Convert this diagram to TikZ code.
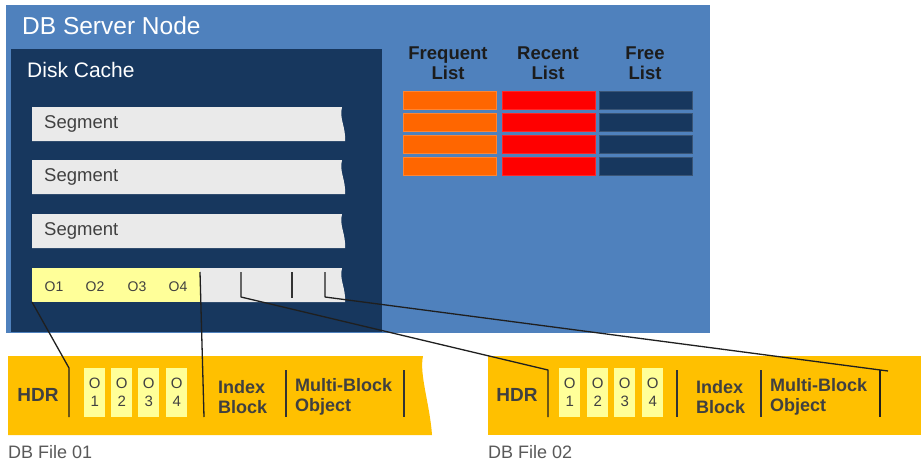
\documentclass[tikz,border=0pt]{standalone}
\usepackage{fontspec}
\setmainfont{Liberation Sans}
\definecolor{outerblue}{RGB}{79,129,189}
\definecolor{navy}{RGB}{23,55,94}
\definecolor{seggray}{RGB}{234,234,234}
\definecolor{lightyel}{RGB}{255,255,153}
\definecolor{gold}{RGB}{255,192,0}
\definecolor{freqor}{RGB}{255,102,0}
\definecolor{recred}{RGB}{255,0,0}
\definecolor{darktext}{RGB}{64,64,64}
\definecolor{headtext}{RGB}{28,28,28}
\definecolor{labgray}{RGB}{89,89,89}
\begin{document}
\begin{tikzpicture}[x=1pt,y=-1pt,
  box/.style={inner sep=0pt, outer sep=0pt, anchor=north west},
  segtext/.style={inner sep=0pt, anchor=west, text=darktext, font=\fontsize{18.5}{18.5}\selectfont},
  otext/.style={inner sep=0pt, text=darktext, font=\fontsize{14}{14}\selectfont},
  obox/.style={fill=lightyel, inner sep=0pt, minimum width=21pt, minimum height=49pt, align=center, text=darktext, font=\fontsize{15}{18}\selectfont},
  filetext/.style={inner sep=0pt, anchor=west, align=left, text=darktext, font=\bfseries\fontsize{18}{20}\selectfont},
  hdrtext/.style={inner sep=0pt, text=darktext, font=\bfseries\fontsize{19}{19}\selectfont},
  listhead/.style={inner sep=0pt, align=center, text=headtext, font=\bfseries\fontsize{18.5}{20}\selectfont},
  filelabel/.style={inner sep=0pt, anchor=west, text=labgray, font=\fontsize{18}{18}\selectfont},
  conn/.style={draw=black!88, line width=1.3pt, line join=round},
  sep/.style={draw=black!80, line width=1.6pt}
]
\useasboundingbox (0,0) rectangle (921,463);
\fill[white] (0,0) rectangle (921,463);

% server and cache
\node[box, fill=outerblue, minimum width=704pt, minimum height=328pt] (server) at (6,5) {};
\node[inner sep=0pt, anchor=west, text=white, font=\fontsize{24.5}{24.5}\selectfont] (title) at (22,26) {DB Server Node};
\node[box, fill=navy, minimum width=371pt, minimum height=283pt] (cache) at (11,49) {};
\node[inner sep=0pt, anchor=west, text=white, font=\fontsize{21}{21}\selectfont] (cachetitle) at (27,70) {Disk Cache};

% segments
\foreach \ya/\yb/\nm in {107/141/seg1, 160/194/seg2, 214/248/seg3}{
  \fill[seggray] (32,\ya) -- (342,\ya) .. controls (339,\ya+12) and (346,\yb-14) .. (345,\yb) -- (32,\yb) -- cycle;
  \node[segtext] (\nm) at (44,{(\ya+\yb)/2}) {Segment};
}
\fill[seggray] (200,268) -- (342,268) .. controls (339,280) and (346,288) .. (345,302) -- (200,302) -- cycle;
\fill[lightyel] (32,268) rectangle (200,302);
\node[otext] (o1) at (54,287) {O1};
\node[otext] (o2) at (95,287) {O2};
\node[otext] (o3) at (137,287) {O3};
\node[otext] (o4) at (178,287) {O4};

% lists
\node[listhead] (freqh) at (448,63) {Frequent\\List};
\node[listhead] (rech) at (548,63) {Recent\\List};
\node[listhead] (freeh) at (645,63) {Free\\List};
\foreach \y in {91,113,135,157}{
  \filldraw[fill=freqor, draw=freqor!80!white, line width=0.6pt] (403,\y) rectangle (496,\y+18);
  \filldraw[fill=recred, draw=recred!85!white, line width=0.6pt] (502,\y) rectangle (595,\y+18);
  \filldraw[fill=navy, draw=navy!85!white, line width=0.6pt] (599,\y) rectangle (692,\y+18);
}

% file bands
\fill[gold] (8,356) -- (423,356) .. controls (419,374) and (430,405) .. (432,435) -- (8,435) -- cycle;
\fill[gold] (488,356) rectangle (921,435);

% file 01 contents
\node[hdrtext] (hdr1) at (38,395) {HDR};
\node[obox, anchor=north west] (f1o1) at (84,368) {O\\1};
\node[obox, anchor=north west] (f1o2) at (111,368) {O\\2};
\node[obox, anchor=north west] (f1o3) at (138,368) {O\\3};
\node[obox, anchor=north west] (f1o4) at (166,368) {O\\4};
\node[filetext] (idx1) at (218,397) {Index\\Block};
\node[filetext] (mbo1) at (295,397) {Multi-Block\\Object};
\node[filelabel] (lab1) at (8,452) {DB File 01};

% file 02 contents
\node[hdrtext] (hdr2) at (517,395) {HDR};
\node[obox, anchor=north west] (f2o1) at (559,368) {O\\1};
\node[obox, anchor=north west] (f2o2) at (587,368) {O\\2};
\node[obox, anchor=north west] (f2o3) at (614,368) {O\\3};
\node[obox, anchor=north west] (f2o4) at (642,368) {O\\4};
\node[filetext] (idx2) at (696,397) {Index\\Block};
\node[filetext] (mbo2) at (770,397) {Multi-Block\\Object};
\node[filelabel] (lab2) at (488,452) {DB File 02};

% coordinates
\coordinate (r4bl) at (32,302);
\coordinate (s1top) at (200,272);
\coordinate (s2top) at (241,272);
\coordinate (s2bot) at (241,297);
\coordinate (s3top) at (292,272);
\coordinate (s3bot) at (292,298);
\coordinate (s4top) at (325,272);
\coordinate (s4bot) at (325,297);
\coordinate (a1top) at (69,368);
\coordinate (a1bot) at (69,417);
\coordinate (b1bot) at (204,417);
\coordinate (c1top) at (286,370);
\coordinate (c1bot) at (286,417);
\coordinate (d1top) at (404,370);
\coordinate (d1bot) at (404,417);
\coordinate (a2top) at (548,370);
\coordinate (a2bot) at (548,417);
\coordinate (b2top) at (677,370);
\coordinate (b2bot) at (677,417);
\coordinate (c2top) at (761,370);
\coordinate (c2bot) at (761,417);
\coordinate (d2end) at (888,371);
\coordinate (d2top) at (880,370);
\coordinate (d2bot) at (880,417);

% separators
\draw[sep] (c1top) -- (c1bot);
\draw[sep] (d1top) -- (d1bot);
\draw[sep] (b2top) -- (b2bot);
\draw[sep] (c2top) -- (c2bot);
\draw[sep] (s3top) -- (s3bot);

% connectors
\draw[conn] (r4bl) -- (a1top) -- (a1bot);
\draw[conn] (s1top) -- (b1bot);
\draw[conn] (s2top) -- (s2bot) -- (a2top) -- (a2bot);
\draw[conn] (s4top) -- (s4bot) -- (d2end);
\draw[conn] (d2top) -- (d2bot);
\end{tikzpicture}
\end{document}
